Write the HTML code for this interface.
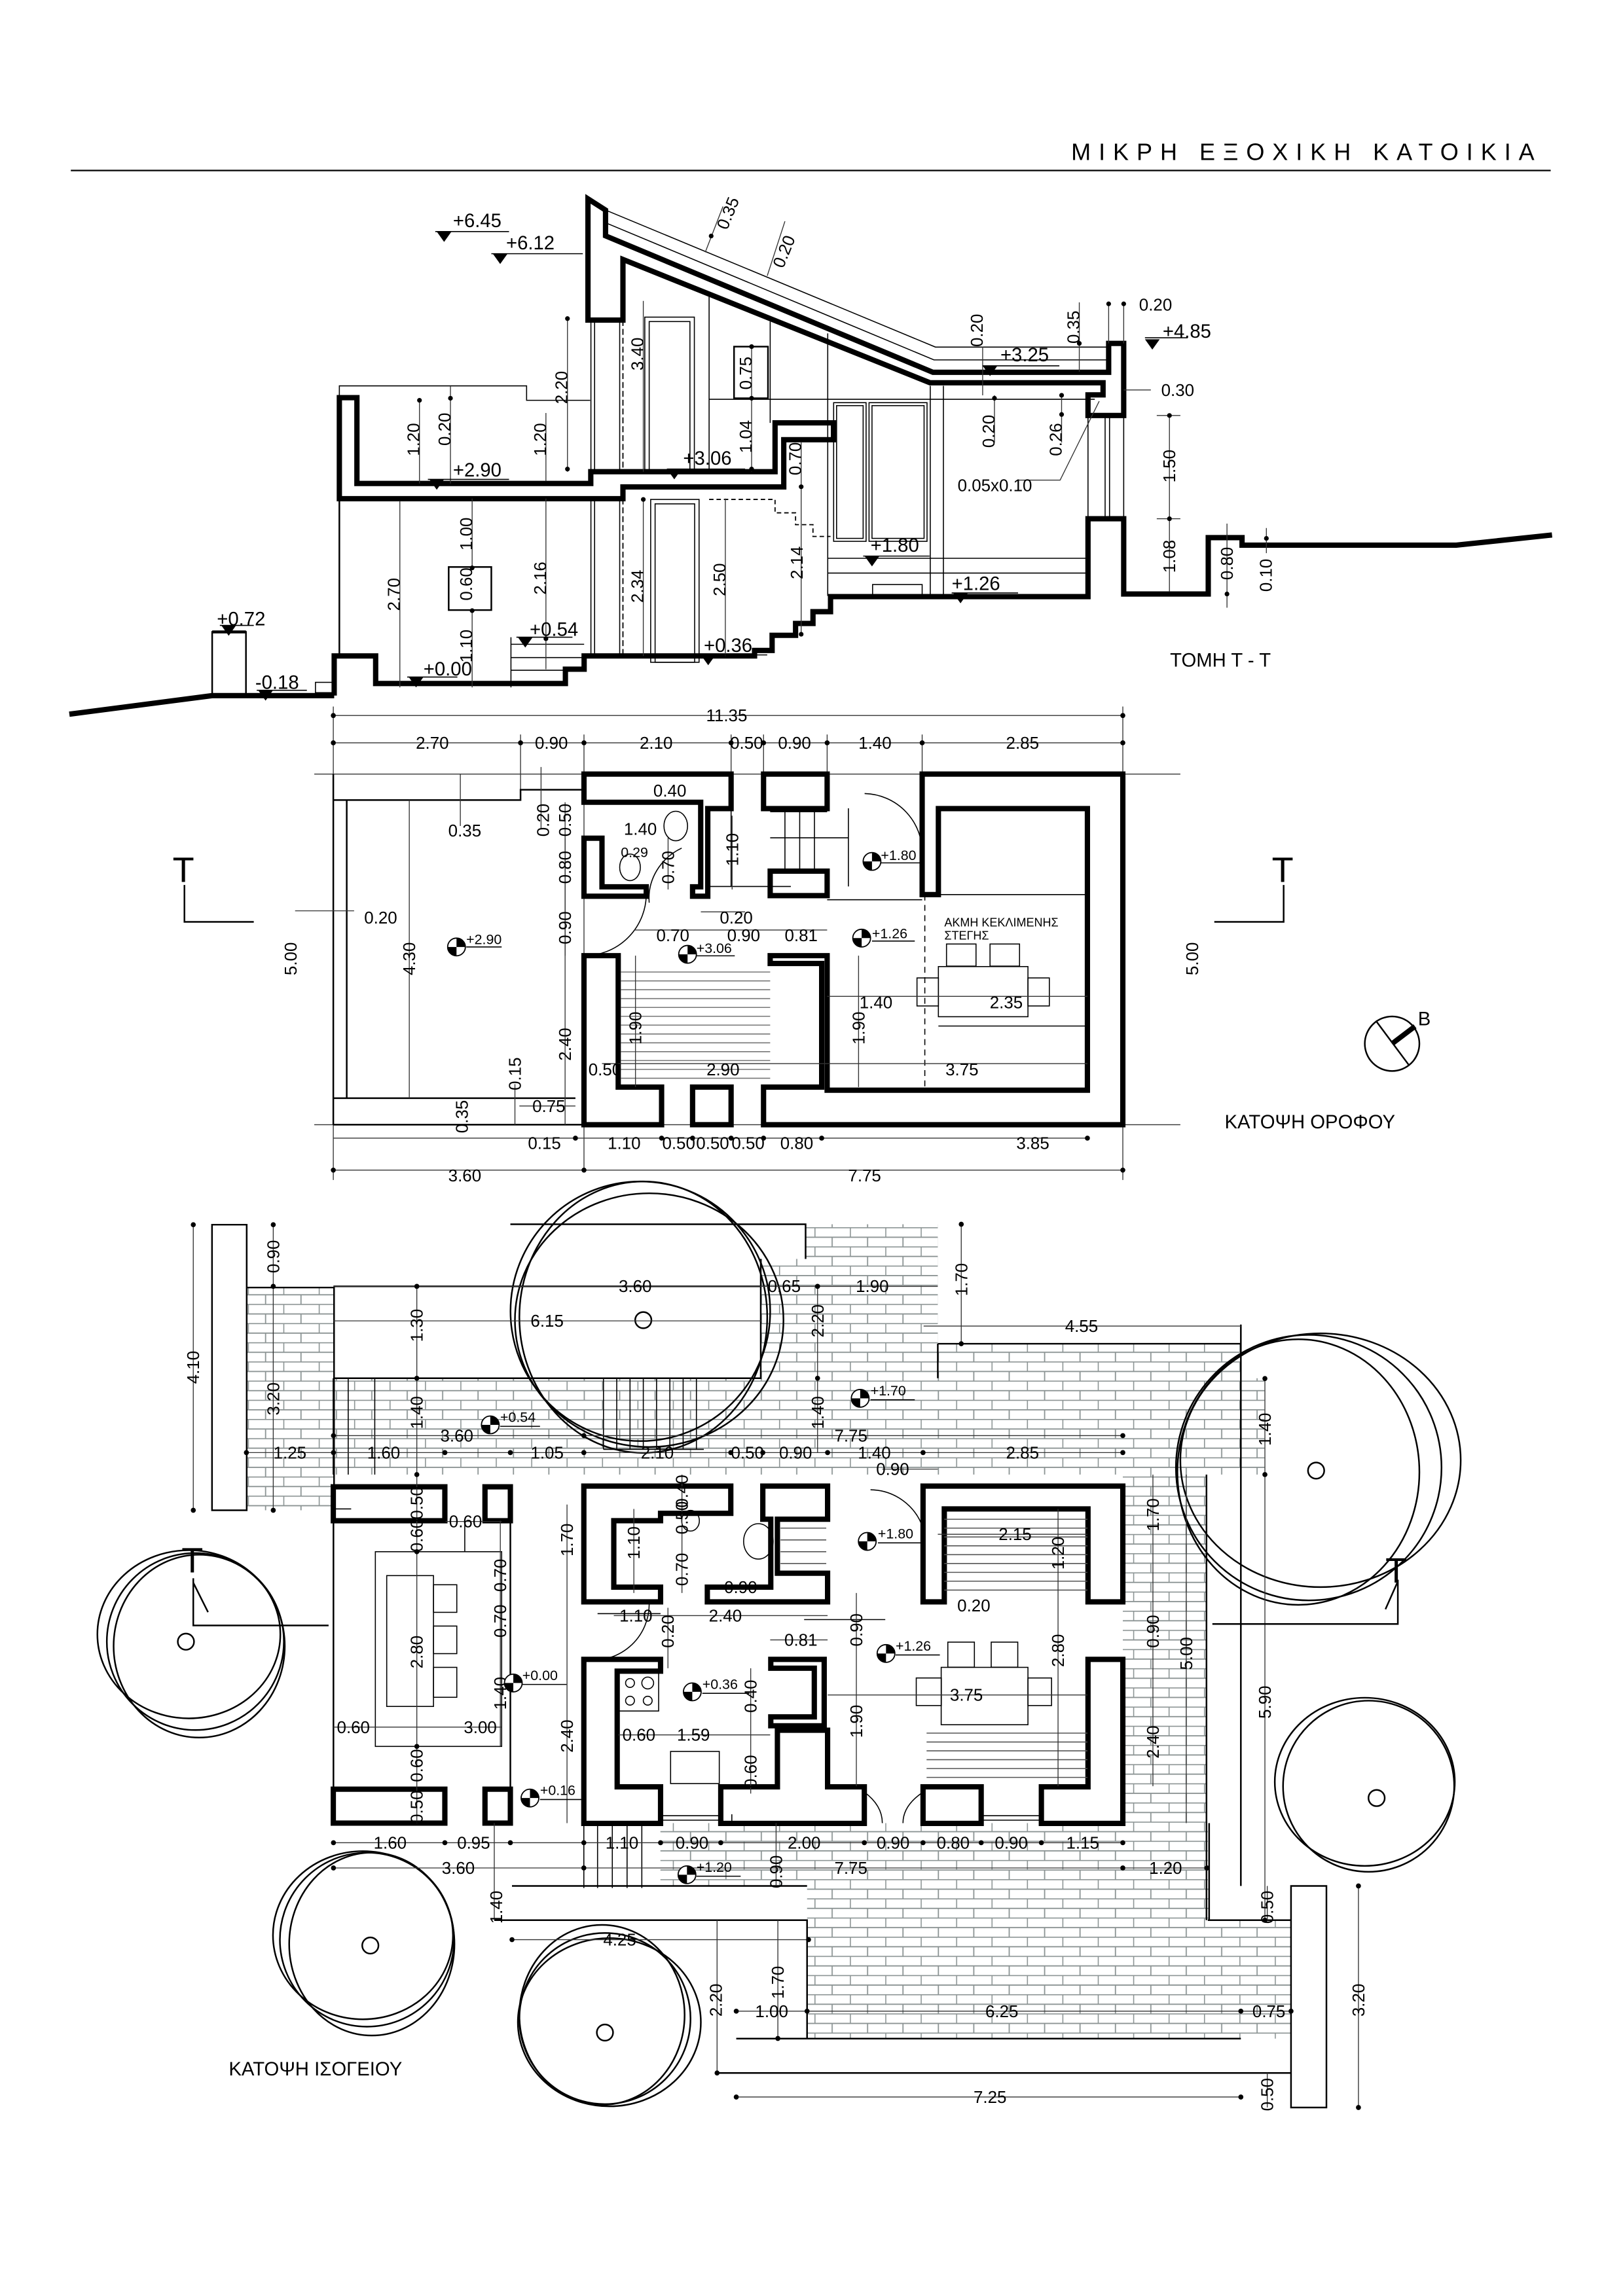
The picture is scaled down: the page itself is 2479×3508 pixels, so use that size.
<!DOCTYPE html>
<html><head><meta charset="utf-8">
<style>
html,body{margin:0;padding:0;background:#fff;}
svg{display:block;}
text{font-family:"Liberation Sans","DejaVu Sans",sans-serif;fill:#000;}
.d{font-size:11.5px;}
.e{font-size:13px;}
.s{font-size:9.5px;}
.w{fill:none;stroke:#000;stroke-width:3.6;stroke-linejoin:miter;}
.t{fill:none;stroke:#000;stroke-width:0.7;}
.g{fill:none;stroke:#333;stroke-width:0.6;}
.k{fill:none;stroke:#000;stroke-width:1.1;}
</style></head>
<body>
<svg width="2479" height="3508" viewBox="0 0 1100 1556.6" xmlns="http://www.w3.org/2000/svg">
<defs>
<pattern id="br" width="24" height="13" patternUnits="userSpaceOnUse">
<rect width="24" height="13" fill="#fff"/>
<path d="M0 0.3H24M0 6.8H24M0.3 0V6.5M12 6.5V13" stroke="#8c9494" stroke-width="0.8" fill="none"/>
</pattern>
<g id="lv"><circle r="6" fill="#fff" stroke="#000" stroke-width="0.8"/><path d="M0,-6A6,6 0 0 1 6,0L0,0ZM0,6A6,6 0 0 1 -6,0L0,0Z" fill="#000"/></g>
<path id="tri" d="M0,0H10L5,7Z" fill="#000"/>
</defs>

<!-- TITLE -->
<text x="726" y="108.5" style="font-size:16px;letter-spacing:5.3px">ΜΙΚΡΗ ΕΞΟΧΙΚΗ ΚΑΤΟΙΚΙΑ</text>
<line x1="48" y1="115.6" x2="1051" y2="115.6" stroke="#000" stroke-width="1"/>

<!-- ================= SECTION ================= -->
<g>
<path d="M47,484.2 L143.8,471.6 H226.5" fill="none" stroke="#000" stroke-width="3.6"/>
<rect x="143.8" y="428.4" width="22.9" height="43" class="k"/>
<line x1="143.8" y1="428.4" x2="166.7" y2="428.4" stroke="#000" stroke-width="2"/>
<rect x="213.8" y="462.6" width="11.5" height="7" class="t"/>
<path class="w" d="M226.5,471.6 V444.7 H254.6 V463.4 H383.2 V453.7 H395.9 V444.7 H511.4 V441 H523.3 V430.7 H539.2 V422.7 H551 V414.7 H562.9 V404.5 H737.4 V351.7 H761.6 V402.7 H818.9 V364.5 H841.8 V369.6 H987 L1051.9,362.7"/>
<path class="w" d="M230,269.6 H241.9 V327.8 H400.4 V319.8 H525.3 V286.7 H564.9 V298.1 H531.2 V330.1 H422.2 V338.1 H230 Z"/>
<path class="t" d="M230,269.6 V261.6 H356.9 V271.4 H400"/>
<line x1="230" y1="338" x2="230" y2="444.7" class="k"/>
<path class="w" d="M398.5,217 V134.8 L410.4,142.4 V159.9 L632.3,252.4 H751.4 V232.8 H761.6 V281.7 H737.4 V267.7 H747.6 V259.5 H630.3 L422.2,175.9 V217 Z"/>
<path class="t" d="M410.4,142.4 L634,235.3 H751.4 M410.4,151 L633,244 H751.4"/>
<path class="t" d="M400.5,217 V319.8 M403,217 V319.8 M420,217 V319.8 M400.5,338 V444.7 M403,338 V444.7 M420,338 V444.7"/>
<path d="M422.2,217 V319.8 M422.2,338 V444.7" stroke="#000" stroke-width="0.8" stroke-dasharray="4,2" fill="none"/>
<path class="t" d="M737.4,281.7 V351.7 M761.6,281.7 V351.7 M749,281.7 V351.7 M752,281.7 V351.7"/>
<path class="t" d="M630.5,261.6 V404 M639.4,261.6 V404 M480.6,201 V319.8 M522,218 V286.7 M561,226 V404 M480.6,270.7 H742"/>
<rect x="437" y="215" width="33.6" height="104.8" class="t"/><rect x="440" y="218" width="27.6" height="101.8" class="t"/>
<rect x="441" y="338.6" width="32.8" height="110.4" class="t"/><rect x="444" y="341.6" width="26.8" height="107.4" class="t"/>
<rect x="497.5" y="235" width="23" height="35" class="k"/>
<rect x="565" y="273" width="22" height="94" class="t"/><rect x="589" y="273" width="39.3" height="94" class="t"/>
<rect x="567" y="275" width="18" height="90" class="t"/><rect x="591" y="275" width="35.3" height="90" class="t"/>
<path class="t" d="M561,378.5 H737 M561,388.5 H737"/>
<rect x="591.4" y="396.3" width="33.6" height="7.7" class="t"/>
<rect x="304.1" y="384.4" width="28.9" height="29.2" class="k"/>
<path d="M480.6,338.6 H525.3 V347.7 H539.2 V355.7 H551 V363.7 H562.9" fill="none" stroke="#000" stroke-width="0.8" stroke-dasharray="3,2"/>
<path class="t" d="M346.3,436.8 H395.9 M346.3,445.8 H395.9 M346.3,454.4 H383 M346.3,432 V466"/>
<path class="g" d="M271,338 V466 M320,338 V385 M320,414 V466 M370,280 V327.8 M370,338 V453.7 M284.3,271.4 V327.8 M305.3,262 V327.8 M384.6,216 V319.8 M436,204 V319.8 M436,338 V444.7 M491.6,338 V444.7 M509.4,235 V319.8 M543,298 V430.7 M666,235 V268 M674,268 V300 M719.5,268 V300 M731.5,205 V252 M751.4,205 V232.8 M761.6,205 V232.8 M792.6,281.7 V402.7 M831.6,355 V412 M858.3,358 V375 M761.6,264.4 H780 M784,281.7 H800 M784,351.7 H800 M478,171 L490,140 M520,187 L532,150"/>
<path class="g" d="M745,272 L718.5,325.5 H690"/>
<g fill="#000">
<circle cx="271" cy="338" r="1.6"/><circle cx="320" cy="385" r="1.6"/><circle cx="320" cy="414" r="1.6"/><circle cx="370" cy="327.8" r="1.6"/><circle cx="370" cy="433" r="1.6"/><circle cx="384.6" cy="216" r="1.6"/><circle cx="384.6" cy="318" r="1.6"/><circle cx="436" cy="338.6" r="1.6"/><circle cx="543" cy="298" r="1.6"/><circle cx="543" cy="330" r="1.6"/><circle cx="543" cy="430" r="1.6"/><circle cx="509.4" cy="235" r="1.6"/><circle cx="509.4" cy="270" r="1.6"/><circle cx="509.4" cy="318" r="1.6"/><circle cx="792.6" cy="281.7" r="1.6"/><circle cx="792.6" cy="351.7" r="1.6"/><circle cx="792.6" cy="402.7" r="1.6"/><circle cx="831.6" cy="402.7" r="1.6"/><circle cx="858.3" cy="365" r="1.6"/><circle cx="751.4" cy="206" r="1.6"/><circle cx="761.6" cy="206" r="1.6"/><circle cx="731.5" cy="232.8" r="1.6"/><circle cx="719.5" cy="268" r="1.6"/><circle cx="719.5" cy="281" r="1.6"/><circle cx="674" cy="270" r="1.6"/><circle cx="482" cy="160" r="1.6"/><circle cx="305.3" cy="270" r="1.6"/><circle cx="284.3" cy="271.4" r="1.6"/>
</g>
<g class="d" text-anchor="middle">
<text transform="translate(271,403) rotate(-90)">2.70</text>
<text transform="translate(320,362) rotate(-90)">1.00</text>
<text transform="translate(320,396) rotate(-90)">0.60</text>
<text transform="translate(320,438) rotate(-90)">1.10</text>
<text transform="translate(370,392) rotate(-90)">2.16</text>
<text transform="translate(284.3,298) rotate(-90)">1.20</text>
<text transform="translate(305.3,291) rotate(-90)">0.20</text>
<text transform="translate(370,298) rotate(-90)">1.20</text>
<text transform="translate(384.6,262.7) rotate(-90)">2.20</text>
<text transform="translate(436,240) rotate(-90)">3.40</text>
<text transform="translate(436,397.5) rotate(-90)">2.34</text>
<text transform="translate(491.6,393) rotate(-90)">2.50</text>
<text transform="translate(509.4,253) rotate(-90)">0.75</text>
<text transform="translate(509.4,296) rotate(-90)">1.04</text>
<text transform="translate(543,311) rotate(-90)">0.70</text>
<text transform="translate(544,381.5) rotate(-90)">2.14</text>
<text transform="translate(497,146) rotate(-68)">0.35</text>
<text transform="translate(535,172) rotate(-68)">0.20</text>
<text transform="translate(666,224) rotate(-90)">0.20</text>
<text transform="translate(731.5,221.8) rotate(-90)">0.35</text>
<text transform="translate(674,292.4) rotate(-90)">0.20</text>
<text transform="translate(719.5,298) rotate(-90)">0.26</text>
<text transform="translate(796.5,316) rotate(-90)">1.50</text>
<text transform="translate(796.5,377.2) rotate(-90)">1.08</text>
<text transform="translate(835.5,382) rotate(-90)">0.80</text>
<text transform="translate(862,390) rotate(-90)">0.10</text>
</g>
<g class="d">
<text x="772" y="210.6">0.20</text>
<text x="787" y="268.4">0.30</text>
<text x="649" y="333">0.05x0.10</text>
</g>
<g class="e">
<text x="307" y="154">+6.45</text><path class="t" d="M295,157H345"/><use href="#tri" x="296" y="157"/>
<text x="343" y="169">+6.12</text><path class="t" d="M333,172H395"/><use href="#tri" x="334" y="172"/>
<text x="678" y="245">+3.25</text><path class="t" d="M666,248H718"/><use href="#tri" x="666" y="248"/>
<text x="788" y="229">+4.85</text><path class="t" d="M776,229H805"/><use href="#tri" x="776" y="230"/>
<text x="307" y="323">+2.90</text><path class="t" d="M290,325H345"/><use href="#tri" x="291" y="325"/>
<text x="463" y="315">+3.06</text><path class="t" d="M452,318H505"/><use href="#tri" x="452" y="318"/>
<text x="590" y="374">+1.80</text><path class="t" d="M585,377H630"/><use href="#tri" x="586" y="377"/>
<text x="645" y="400">+1.26</text><path class="t" d="M645,402H690"/><use href="#tri" x="646" y="402"/>
<text x="359" y="431">+0.54</text><path class="t" d="M350,432H388"/><use href="#tri" x="351" y="432"/>
<text x="477" y="442">+0.36</text><path class="t" d="M475,444H520"/><use href="#tri" x="475" y="444"/>
<text x="287" y="458">+0.00</text><path class="t" d="M276,459H310"/><use href="#tri" x="277" y="459"/>
<text x="147" y="424">+0.72</text><path class="t" d="M149,424H172"/><use href="#tri" x="150" y="424"/>
<text x="173" y="467">-0.18</text><path class="t" d="M174,468H208"/><use href="#tri" x="175" y="468"/>
</g>
<text x="793" y="452" style="font-size:13px">ΤΟΜΗ  Τ - Τ</text>
</g>

<!-- ================= UPPER FLOOR PLAN ================= -->
<g>
<path class="g" d="M225.9,485.1H761 M225.9,503.6H761 M225.9,479V800 M761,479V800 M352.8,498V540 M395.8,498V793 M495.5,498V530 M517.5,498V530 M560.6,498V530 M625,498V530 M213,524.8H800 M213,762.5H800 M225.9,793.3H761 M225.9,771.6H737"/>
<g fill="#000">
<circle cx="225.9" cy="485.1" r="1.7"/><circle cx="761" cy="485.1" r="1.7"/>
<circle cx="225.9" cy="503.6" r="1.7"/><circle cx="352.8" cy="503.6" r="1.7"/><circle cx="395.8" cy="503.6" r="1.7"/><circle cx="495.5" cy="503.6" r="1.7"/><circle cx="517.5" cy="503.6" r="1.7"/><circle cx="560.6" cy="503.6" r="1.7"/><circle cx="625" cy="503.6" r="1.7"/><circle cx="761" cy="503.6" r="1.7"/>
<circle cx="225.9" cy="793.3" r="1.7"/><circle cx="395.8" cy="793.3" r="1.7"/><circle cx="761" cy="793.3" r="1.7"/>
<circle cx="390" cy="771.6" r="1.7"/><circle cx="448.4" cy="771.6" r="1.7"/><circle cx="469.4" cy="771.6" r="1.7"/><circle cx="495.5" cy="771.6" r="1.7"/><circle cx="517.5" cy="771.6" r="1.7"/><circle cx="556.9" cy="771.6" r="1.7"/><circle cx="737" cy="771.6" r="1.7"/>
</g>
<path class="k" d="M225.9,524.8V762.5 M235,542.4V744.5 M225.9,542.4H352.8V535.4H395.8 M225.9,744.5H390 M225.9,762.5H395.8"/>
<path class="g" d="M277.4,542.4V744.5 M312,524.8V560 M366.7,520V562 M383,543.9V762.5 M349,735V762.5 M200,617.5H240 M352,749.8H390"/>
<path class="w" d="M395.8,524.8 H495.5 V548.2 H479.7 V607.6 H469.4 V601.2 H474.9 V543.9 H395.8 Z"/>
<path class="w" d="M395.8,568.3 H408 V601.2 H438 V607.6 H395.8 Z"/>
<rect x="517.5" y="524.8" width="43.1" height="23.4" class="w"/>
<rect x="522" y="590.6" width="38.6" height="16.6" class="w"/>
<path class="w" d="M625,606.5 V524.8 H761 V762.5 H517.5 V737 H556.9 V653.2 H522 V647.9 H560.6 V739.1 H737 V548.2 H636 V606.5 Z"/>
<path class="w" d="M395.8,647.9 H419 V737 H448.4 V762.5 H395.8 Z"/>
<rect x="469.4" y="737" width="26.1" height="25.5" class="w"/>
<g stroke="#777" stroke-width="0.7">
<path d="M420.8,659H522M420.8,665H522M420.8,671H522M420.8,677H522M420.8,683H522M420.8,689H522M420.8,695H522M420.8,701H522M420.8,707H522M420.8,713H522M420.8,719H522M420.8,725H522M420.8,731H522"/>
</g>
<path class="t" d="M532,550.3V589.5M542,550.3V589.5M552,550.3V589.5M522,550.3H560.6 M522,568H575 M636,606.5H737 M636,695.6H737 M495.5,548.2V601 M480,601H536 M575,548V601 M560.6,610H625"/>
<path d="M626.8,606.5V737" stroke="#000" stroke-width="0.7" stroke-dasharray="4,3"/>
<path class="t" d="M395.8,647.9 A42,42 0 0 0 438,607.6 M586,538 A40,40 0 0 1 625,580 M440,612 A40,38 0 0 1 462,575"/>
<ellipse cx="458" cy="560" rx="8" ry="10" class="t"/><ellipse cx="427" cy="588" rx="7" ry="9" class="t"/>
<rect x="636" y="655.3" width="60.7" height="34" class="t"/>
<rect x="641.5" y="640" width="20" height="15" class="t"/><rect x="671" y="640" width="20" height="15" class="t"/>
<rect x="621.5" y="663" width="14.5" height="19" class="t"/><rect x="696.7" y="663" width="14.5" height="19" class="t"/>
<path class="g" d="M430.7,647.9V737 M581.9,647.9V737 M383,607.6V647.9 M383,568.3V607.6 M452.8,568V603 M496.2,553V603 M408,721.1H737 M560.6,675.5H737 M430,630.5H560.6 M475,618.2H505"/>
<g class="d" text-anchor="middle">
<text x="492.5" y="489">11.35</text>
<text x="293" y="507.6">2.70</text><text x="373.7" y="507.6">0.90</text><text x="444.7" y="507.6">2.10</text><text x="506" y="507.6">0.50</text><text x="538.5" y="507.6">0.90</text><text x="593" y="507.6">1.40</text><text x="693" y="507.6">2.85</text>
<text x="454" y="540">0.40</text><text x="434" y="566">1.40</text><text x="430" y="581" class="s">0.29</text><text x="315" y="567">0.35</text>
<text x="258" y="626">0.20</text>
<text x="499" y="626">0.20</text><text x="456" y="638">0.70</text><text x="504" y="638">0.90</text><text x="543" y="638">0.81</text>
<text x="593.7" y="683.5">1.40</text><text x="682" y="683.5">2.35</text>
<text x="410" y="729">0.50</text><text x="490" y="729">2.90</text><text x="652" y="729">3.75</text>
<text x="372" y="754">0.75</text>
<text x="369" y="779">0.15</text><text x="423" y="779">1.10</text><text x="460" y="779">0.50</text><text x="483" y="779">0.50</text><text x="507" y="779">0.50</text><text x="540" y="779">0.80</text><text x="700" y="779">3.85</text>
<text x="315" y="801">3.60</text><text x="586" y="801">7.75</text>
</g>
<g class="d" text-anchor="middle">
<text transform="translate(201,650) rotate(-90)">5.00</text>
<text transform="translate(281.4,650) rotate(-90)">4.30</text>
<text transform="translate(372,556) rotate(-90)">0.20</text>
<text transform="translate(387,556) rotate(-90)">0.50</text>
<text transform="translate(387,588) rotate(-90)">0.80</text>
<text transform="translate(387,629) rotate(-90)">0.90</text>
<text transform="translate(387,708) rotate(-90)">2.40</text>
<text transform="translate(456.8,588) rotate(-90)">0.70</text>
<text transform="translate(500.2,576) rotate(-90)">1.10</text>
<text transform="translate(434.7,697) rotate(-90)">1.90</text>
<text transform="translate(585.9,697) rotate(-90)">1.90</text>
<text transform="translate(353,728) rotate(-90)">0.15</text>
<text transform="translate(317,757) rotate(-90)">0.35</text>
<text transform="translate(812,650) rotate(-90)">5.00</text>
</g>
<text x="640" y="628" style="font-size:8px">ΑΚΜΗ ΚΕΚΛΙΜΕΝΗΣ</text>
<text x="640" y="637" style="font-size:8px">ΣΤΕΓΗΣ</text>
<use href="#lv" x="309.4" y="642"/><text x="316" y="640" class="s">+2.90</text><path class="t" d="M316,642H340"/>
<use href="#lv" x="466" y="647"/><text x="472" y="646" class="s">+3.06</text><path class="t" d="M472,648H498"/>
<use href="#lv" x="591" y="584"/><text x="597" y="583" class="s">+1.80</text><path class="t" d="M597,585H625"/>
<use href="#lv" x="584" y="636"/><text x="591" y="636" class="s">+1.26</text><path class="t" d="M591,638H620"/>
<text x="117" y="598" style="font-size:24px">T</text><path class="k" d="M125,600V625H172"/>
<text x="862" y="598" style="font-size:24px">T</text><path class="k" d="M870,600V625H823"/>
<circle cx="943.5" cy="707.6" r="18.5" class="k"/>
<path class="k" d="M932.5,692L954.6,721.7"/><path d="M943.5,707.6L959,695.8" stroke="#000" stroke-width="3.5"/>
<text x="961" y="695" style="font-size:13px">B</text>
<text x="830" y="765" style="font-size:13px">ΚΑΤΟΨΗ ΟΡΟΦΟΥ</text>
</g>

<!-- ================= GROUND FLOOR PLAN ================= -->
<g>
<g fill="url(#br)">
<rect x="167.2" y="872.9" width="59.2" height="151"/>
<rect x="226" y="934.4" width="631" height="65.3"/>
<rect x="546" y="830" width="89.6" height="104.4"/>
<rect x="515.6" y="853.5" width="30.4" height="81"/>
<rect x="635.6" y="911" width="205" height="24"/>
<rect x="761" y="999.7" width="57" height="302"/>
<rect x="447.6" y="1236" width="371" height="42.6"/>
<rect x="547" y="1278" width="272" height="24"/>
<rect x="547" y="1301.8" width="328" height="80.3"/>
</g>
<rect x="346" y="853.5" width="169.6" height="81" fill="#fff"/>
<path class="k" d="M143.7,830.3H167.2V1023.9H143.7Z M167.2,872.9H226.4V1023.9 M226,872.1H515.6V934.4H226 M345.9,830H546V853.5 M515.6,853.5V934.4 M635.6,911H841 M635.6,911V934.4 M226,934.4V999.7"/>
<path class="k" d="M226,1023V1236 M345.9,1024.6V1211.4 M817.7,999.7V1301.8 M841,898V1278.6 M347,1278.6H547 M335,1301.8H547V1382.1 M818.6,1301.8H875 M499,1382.1H841 M485.7,1405.4H875 M875,1278.6H899V1428.8H875Z M819.5,1236V1301.8"/>
<path class="t" d="M395.7,1236V1280 M405,1236V1280 M415,1236V1280 M425,1236V1280 M435,1236V1280 M409,934.4V982.6 M418,934.4V982.6 M427,934.4V982.6 M436,934.4V982.6 M445,934.4V982.6 M454,934.4V982.6 M463,934.4V982.6 M472,934.4V982.6 M409,982.6H477 M236,934.4V999.7 M254,934.4V999.7"/>
<g class="k" fill="none">
<circle cx="434" cy="889" r="88"/><ellipse cx="440" cy="895" rx="91" ry="86"/><ellipse cx="436" cy="893" rx="84" ry="92"/>
<circle cx="887" cy="995" r="90"/><ellipse cx="895" cy="990" rx="95" ry="86"/><ellipse cx="880" cy="998" rx="82" ry="90"/>
<circle cx="132.4" cy="1112.9" r="60"/><ellipse cx="128" cy="1108" rx="62" ry="57"/><ellipse cx="135" cy="1116" rx="58" ry="62"/>
<circle cx="927.6" cy="1211" r="58"/><ellipse cx="925" cy="1208" rx="61" ry="57"/>
<circle cx="248.7" cy="1315" r="59"/><ellipse cx="252" cy="1318" rx="56" ry="62"/><ellipse cx="246" cy="1312" rx="61" ry="57"/>
<circle cx="410" cy="1368.5" r="58"/><ellipse cx="413" cy="1371" rx="62" ry="57"/><ellipse cx="408" cy="1366" rx="56" ry="61"/>
<circle cx="436" cy="895" r="5.5"/><circle cx="892" cy="997" r="5.5"/><circle cx="126" cy="1113" r="5.5"/><circle cx="933" cy="1219" r="5.5"/><circle cx="251" cy="1319" r="5.5"/><circle cx="410" cy="1378" r="5.5"/>
</g>
<rect x="225.9" y="1008" width="75.6" height="23" class="w"/>
<rect x="328.7" y="1008" width="17.2" height="23" class="w"/>
<rect x="225.9" y="1213" width="75.6" height="23" class="w"/>
<rect x="328.7" y="1213" width="17.2" height="23" class="w"/>
<path class="w" d="M395.7,1007.5 H495.3 V1026 H447.7 V1031 H416 V1076 H447.7 V1086 H395.7 Z"/>
<path class="w" d="M517,1007.5 H560.9 V1030 H526.9 V1066.6 H560.9 V1086 H479.4 V1076 H522.4 V1030 H517 Z"/>
<path class="w" d="M625.6,1007.5 H761 V1086 H737.4 V1023 H640 V1086 H625.6 Z"/>
<path class="w" d="M395.7,1125 H447.7 V1133 H418.3 V1211.4 H447.7 V1236.2 H395.7 Z"/>
<path class="w" d="M522.4,1125 H558.6 V1170 H522.4 V1164 H551.9 V1131 H522.4 Z"/>
<path class="w" d="M526.9,1173 H560.9 V1211.4 H585.8 V1236.2 H488.5 V1211.4 H526.9 Z"/>
<rect x="625.6" y="1211.4" width="39.4" height="24.8" class="w"/>
<path class="w" d="M705.8,1211.4 H737.4 V1125 H761 V1236.2 H705.8 Z"/>
<g stroke="#555" stroke-width="0.7">
<path d="M640,1030H737M640,1036H737M640,1042H737M640,1048H737M640,1054H737M640,1060H737M640,1066H737M640,1072H737M640,1078H737 M628,1175H737M628,1181H737M628,1187H737M628,1193H737M628,1199H737M628,1205H737 M529,1036H560M529,1044H560M529,1052H560M529,1060H560"/>
</g>
<rect x="254.4" y="1052" width="85.6" height="132" class="t"/>
<rect x="262.1" y="1068.2" width="31.7" height="88.7" class="t"/>
<rect x="293.8" y="1074.4" width="15.8" height="18.7" class="t"/><rect x="293.8" y="1102.4" width="15.8" height="18.7" class="t"/><rect x="293.8" y="1130.4" width="15.8" height="20.3" class="t"/>
<rect x="637.9" y="1130.4" width="58.8" height="38.9" class="t"/>
<rect x="642.4" y="1113.3" width="18" height="17" class="t"/><rect x="671.8" y="1113.3" width="18" height="17" class="t"/>
<rect x="621" y="1137.6" width="17" height="18.7" class="t"/><rect x="696.7" y="1137.6" width="16" height="18.7" class="t"/>
<rect x="419.2" y="1132" width="27.2" height="28" class="t"/>
<circle cx="427" cy="1141" r="3" class="t"/><circle cx="439" cy="1141" r="4" class="t"/><circle cx="427" cy="1153" r="3" class="t"/><circle cx="439" cy="1153" r="3" class="t"/>
<rect x="454.5" y="1187.4" width="33" height="21.8" class="t"/>
<ellipse cx="514" cy="1045" rx="10" ry="12" class="t"/><ellipse cx="468" cy="1031" rx="6" ry="7" class="t"/>
<path class="t" d="M395.7,1125 A38,38 0 0 0 440,1087 M625.6,1036 A38,38 0 0 0 590,1010 M447.7,1094H405 M545,1098H600 M496,1236V1230"/>
<path class="t" d="M447.7,1231H488.5 M447.7,1234H488.5 M665,1231H705.8 M665,1234H705.8 M585.8,1215 Q598,1224 598,1236 M625.6,1215 Q612,1224 612,1236 M315,1031V1052 M238,1023H226"/>
<path class="g" d="M167,984.8H762 M226,973.3H762 M226,895.5H516 M226,872.1H635.6 M626,899H841 M598,996H635.6 M226,1249.3H762 M226,1266.4H818 M185.2,830.3V1023.9 M282.5,872.1V1236 M554.1,872.1V984.8 M651.5,830V911 M339.1,1031V1184 M384.3,1020V1236 M429.6,1023V1080 M462.2,999.7V1080 M452.7,1090V1131 M508.8,1131V1216 M580.4,1080V1211 M717.1,1023V1211 M781.4,999.7V1211 M804,999.7V1236 M857.3,934.6V1301.8 M131,830.3V1023.9 M526,1236V1278 M335,1236V1301 M486,1301.8V1405.4 M527.2,1301.8V1382 M499,1363.5H875 M499,1421.7H841 M347,1315H548 M920.7,1278.6V1428.8 M858.9,1278.6V1301.8 M858.9,1405.4V1428.8 M226,1170.9H340 M419,1176.2H522 M416,1095.3H560.9 M522,1111.8H560.9 M635.6,1040.2H737 M561,1149.1H737 M302,1031.5H340"/>
<g fill="#000">
<circle cx="167" cy="984.8" r="1.7"/><circle cx="226" cy="984.8" r="1.7"/><circle cx="301.5" cy="984.8" r="1.7"/><circle cx="345.9" cy="984.8" r="1.7"/><circle cx="395.7" cy="984.8" r="1.7"/><circle cx="495.3" cy="984.8" r="1.7"/><circle cx="517" cy="984.8" r="1.7"/><circle cx="560.9" cy="984.8" r="1.7"/><circle cx="625.6" cy="984.8" r="1.7"/><circle cx="761" cy="984.8" r="1.7"/>
<circle cx="226" cy="973.3" r="1.7"/><circle cx="395.7" cy="973.3" r="1.7"/><circle cx="761" cy="973.3" r="1.7"/>
<circle cx="226" cy="1249.3" r="1.7"/><circle cx="301.5" cy="1249.3" r="1.7"/><circle cx="345.9" cy="1249.3" r="1.7"/><circle cx="395.7" cy="1249.3" r="1.7"/><circle cx="447.7" cy="1249.3" r="1.7"/><circle cx="488.5" cy="1249.3" r="1.7"/><circle cx="585.8" cy="1249.3" r="1.7"/><circle cx="625.6" cy="1249.3" r="1.7"/><circle cx="665" cy="1249.3" r="1.7"/><circle cx="705.8" cy="1249.3" r="1.7"/><circle cx="761" cy="1249.3" r="1.7"/>
<circle cx="226" cy="1266.4" r="1.7"/><circle cx="395.7" cy="1266.4" r="1.7"/><circle cx="761" cy="1266.4" r="1.7"/><circle cx="818" cy="1266.4" r="1.7"/>
<circle cx="185.2" cy="830.3" r="1.7"/><circle cx="185.2" cy="872.1" r="1.7"/><circle cx="185.2" cy="1023.9" r="1.7"/><circle cx="131" cy="830.3" r="1.7"/><circle cx="131" cy="1023.9" r="1.7"/>
<circle cx="282.5" cy="872.1" r="1.7"/><circle cx="282.5" cy="934.4" r="1.7"/><circle cx="282.5" cy="999.7" r="1.7"/><circle cx="282.5" cy="1052" r="1.7"/><circle cx="282.5" cy="1184" r="1.7"/>
<circle cx="554.1" cy="872.1" r="1.7"/><circle cx="554.1" cy="934.4" r="1.7"/><circle cx="651.5" cy="830" r="1.7"/><circle cx="651.5" cy="911" r="1.7"/>
<circle cx="857.3" cy="934.6" r="1.7"/><circle cx="857.3" cy="999.7" r="1.7"/><circle cx="857.3" cy="1301.8" r="1.7"/>
<circle cx="499" cy="1363.5" r="1.7"/><circle cx="547" cy="1363.5" r="1.7"/><circle cx="841" cy="1363.5" r="1.7"/><circle cx="875" cy="1363.5" r="1.7"/>
<circle cx="499" cy="1421.7" r="1.7"/><circle cx="841" cy="1421.7" r="1.7"/><circle cx="920.7" cy="1278.6" r="1.7"/><circle cx="920.7" cy="1428.8" r="1.7"/>
<circle cx="347" cy="1315" r="1.7"/><circle cx="548" cy="1315" r="1.7"/><circle cx="486" cy="1405.4" r="1.7"/><circle cx="527.2" cy="1382" r="1.7"/>
</g>
<g class="d" text-anchor="middle">
<text x="196.5" y="988.8">1.25</text><text x="260" y="988.8">1.60</text><text x="370.8" y="988.8">1.05</text><text x="445.5" y="988.8">2.10</text><text x="506.6" y="988.8">0.50</text><text x="539.2" y="988.8">0.90</text><text x="592.6" y="988.8">1.40</text><text x="693" y="988.8">2.85</text>
<text x="309.6" y="977.3">3.60</text><text x="576.7" y="977.3">7.75</text><text x="605" y="1000">0.90</text>
<text x="430.5" y="876">3.60</text><text x="531.5" y="876">0.65</text><text x="591.2" y="876">1.90</text>
<text x="370.8" y="899.5">6.15</text><text x="733" y="903">4.55</text>
<text x="264.4" y="1253.3">1.60</text><text x="321" y="1253.3">0.95</text><text x="421.5" y="1253.3">1.10</text><text x="469" y="1253.3">0.90</text><text x="545" y="1253.3">2.00</text><text x="605.3" y="1253.3">0.90</text><text x="646" y="1253.3">0.80</text><text x="685.4" y="1253.3">0.90</text><text x="733.8" y="1253.3">1.15</text>
<text x="310.6" y="1270.4">3.60</text><text x="576.7" y="1270.4">7.75</text><text x="790" y="1270.4">1.20</text>
<text x="315.5" y="1035.5">0.60</text><text x="502" y="1080">0.90</text><text x="431" y="1099.3">1.10</text><text x="491.6" y="1099.3">2.40</text><text x="542.8" y="1115.8">0.81</text><text x="660" y="1092.4">0.20</text><text x="688" y="1044.2">2.15</text><text x="655" y="1153.1">3.75</text>
<text x="239.5" y="1174.9">0.60</text><text x="325.5" y="1174.9">3.00</text><text x="433" y="1180.2">0.60</text><text x="470" y="1180.2">1.59</text>
<text x="523" y="1367.5">1.00</text><text x="679" y="1367.5">6.25</text><text x="860" y="1367.5">0.75</text><text x="671" y="1425.7">7.25</text><text x="420" y="1319">4.25</text>
</g>
<g class="d" text-anchor="middle">
<text transform="translate(189.2,851.9) rotate(-90)">0.90</text>
<text transform="translate(135,927) rotate(-90)">4.10</text>
<text transform="translate(286.5,898.6) rotate(-90)">1.30</text>
<text transform="translate(189.2,948.4) rotate(-90)">3.20</text>
<text transform="translate(286.5,957.7) rotate(-90)">1.40</text>
<text transform="translate(558.1,895.5) rotate(-90)">2.20</text>
<text transform="translate(655.5,867.5) rotate(-90)">1.70</text>
<text transform="translate(558.1,957.7) rotate(-90)">1.40</text>
<text transform="translate(286.5,1019) rotate(-90)">0.50</text>
<text transform="translate(286.5,1041) rotate(-90)">0.60</text>
<text transform="translate(388.3,1044) rotate(-90)">1.70</text>
<text transform="translate(343.1,1068) rotate(-90)">0.70</text>
<text transform="translate(343.1,1099) rotate(-90)">0.70</text>
<text transform="translate(286.5,1120) rotate(-90)">2.80</text>
<text transform="translate(343.1,1148) rotate(-90)">1.40</text>
<text transform="translate(388.3,1177) rotate(-90)">2.40</text>
<text transform="translate(286.5,1197) rotate(-90)">0.60</text>
<text transform="translate(286.5,1225) rotate(-90)">0.50</text>
<text transform="translate(433.6,1046) rotate(-90)">1.10</text>
<text transform="translate(466.2,1029) rotate(-90)">0.50</text>
<text transform="translate(466.2,1011) rotate(-90)">0.40</text>
<text transform="translate(466.2,1064) rotate(-90)">0.70</text>
<text transform="translate(456.7,1106) rotate(-90)">0.20</text>
<text transform="translate(512.8,1150) rotate(-90)">0.40</text>
<text transform="translate(512.8,1201) rotate(-90)">0.60</text>
<text transform="translate(584.4,1105) rotate(-90)">0.90</text>
<text transform="translate(584.4,1167) rotate(-90)">1.90</text>
<text transform="translate(721.1,1053) rotate(-90)">1.20</text>
<text transform="translate(721.1,1119) rotate(-90)">2.80</text>
<text transform="translate(785.4,1027) rotate(-90)">1.70</text>
<text transform="translate(785.4,1106) rotate(-90)">0.90</text>
<text transform="translate(808,1121) rotate(-90)">5.00</text>
<text transform="translate(785.4,1181) rotate(-90)">2.40</text>
<text transform="translate(861.3,969) rotate(-90)">1.40</text>
<text transform="translate(861.3,1154) rotate(-90)">5.90</text>
<text transform="translate(530,1269) rotate(-90)">0.90</text>
<text transform="translate(340.3,1293) rotate(-90)">1.40</text>
<text transform="translate(489.2,1356) rotate(-90)">2.20</text>
<text transform="translate(531.2,1344) rotate(-90)">1.70</text>
<text transform="translate(924.7,1356) rotate(-90)">3.20</text>
<text transform="translate(862.9,1293) rotate(-90)">0.50</text>
<text transform="translate(862.9,1420) rotate(-90)">0.50</text>
</g>
<use href="#lv" x="332.3" y="966"/><text x="339" y="964" class="s">+0.54</text><path class="t" d="M339,967H366"/>
<use href="#lv" x="583" y="948"/><text x="590" y="946" class="s">+1.70</text><path class="t" d="M590,949H620"/>
<use href="#lv" x="587.8" y="1045"/><text x="595" y="1043" class="s">+1.80</text><path class="t" d="M595,1046H625"/>
<use href="#lv" x="600.5" y="1121"/><text x="607" y="1119" class="s">+1.26</text><path class="t" d="M607,1122H637"/>
<use href="#lv" x="347.9" y="1141"/><text x="354" y="1139" class="s">+0.00</text><path class="t" d="M354,1142H384"/>
<use href="#lv" x="469.2" y="1147"/><text x="476" y="1145" class="s">+0.36</text><path class="t" d="M476,1148H508"/>
<use href="#lv" x="359.2" y="1219"/><text x="366" y="1217" class="s">+0.16</text><path class="t" d="M366,1220H396"/>
<use href="#lv" x="465.6" y="1271"/><text x="472" y="1269" class="s">+1.20</text><path class="t" d="M472,1272H502"/>
<text x="123" y="1066" style="font-size:24px">T</text><path class="k" d="M131,1070V1102H222.7 M131,1073L141,1093"/>
<text x="939" y="1073" style="font-size:24px">T</text><path class="k" d="M947.4,1071V1101H821.7 M947,1073L939,1091"/>
<text x="155" y="1407" style="font-size:13px">ΚΑΤΟΨΗ ΙΣΟΓΕΙΟΥ</text>
</g>
</svg>
</body></html>
